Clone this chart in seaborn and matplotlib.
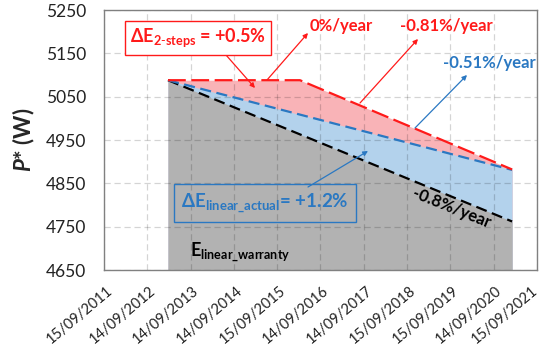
import matplotlib
matplotlib.use("Agg")
import matplotlib.pyplot as plt
import matplotlib.transforms as mtransforms
import seaborn as sns
import pandas as pd

# Module power degradation scenarios
dates_linear = ["2013-03-08", "2021-02-17"]
p_warranty = [5088, 4762]          # linear warranty, -0.8 %/year
p_actual = [5088, 4881]            # linear fit of actual data, -0.51 %/year
dates_two_steps = ["2013-03-08", "2016-03-25", "2021-02-17"]
p_two_steps = [5088, 5088, 4882]   # 0 %/year then -0.81 %/year

tick_dates = ["2011-09-15", "2012-09-14", "2013-09-14", "2014-09-14",
              "2015-09-15", "2016-09-14", "2017-09-14", "2018-09-15",
              "2019-09-15", "2020-09-14", "2021-09-15"]
tick_labels = ["15/09/2011", "14/09/2012", "14/09/2013", "14/09/2014",
               "15/09/2015", "14/09/2016", "14/09/2017", "15/09/2018",
               "15/09/2019", "14/09/2020", "15/09/2021"]
y_ticks = [4650, 4750, 4850, 4950, 5050, 5150, 5250]

sns.set_theme(style="white")
plt.rcParams["font.family"] = ["Lato", "DejaVu Sans"]
plt.rcParams["mathtext.fontset"] = "custom"
plt.rcParams["mathtext.rm"] = "Lato"
plt.rcParams["mathtext.bf"] = "Lato:bold"
plt.rcParams["mathtext.it"] = "Lato:bold:italic"

RED = "#ff1a1a"
BLUE = "#2a78c2"
PINK = "#f9b3b7"
LIGHTBLUE = "#b3d2ec"
GREY = "#b2b2b2"

lin = pd.DataFrame({"date": pd.to_datetime(dates_linear),
                    "warranty": p_warranty, "actual": p_actual})
two = pd.DataFrame({"date": pd.to_datetime(dates_two_steps), "p": p_two_steps})

fig = plt.figure(figsize=(5.41, 3.54), dpi=100)
ax = fig.add_axes([104 / 541, 84 / 354, 433 / 541, 260 / 354])

ymin, ymax = y_ticks[0], y_ticks[-1]

# stacked areas: each fill reaches the bottom, drawn from the top series down
ax.fill_between(two["date"], two["p"], ymin, color=PINK, lw=0, zorder=1)
ax.fill_between(lin["date"], lin["actual"], ymin, color=LIGHTBLUE, lw=0, zorder=1)
ax.fill_between(lin["date"], lin["warranty"], ymin, color=GREY, lw=0, zorder=1)

sns.lineplot(data=lin, x="date", y="warranty", ax=ax, color="black", lw=1.6,
             linestyle=(0, (5, 2.5)), zorder=3)
sns.lineplot(data=lin, x="date", y="actual", ax=ax, color=BLUE, lw=1.6,
             linestyle=(0, (5, 2.5)), zorder=3)
sns.lineplot(data=two, x="date", y="p", ax=ax, color=RED, lw=1.6,
             linestyle=(0, (8, 2.5)), zorder=4)

ax.set_xlim(pd.Timestamp(tick_dates[0]), pd.Timestamp(tick_dates[-1]))
ax.set_ylim(ymin, ymax)
tick_pos = pd.to_datetime(tick_dates)
ax.set_xticks(tick_pos)
ax.set_xticklabels([])

# rotated date labels, anchored by their upper-right corner below each tick
base = ax.get_xaxis_transform()
for i, (d, lab) in enumerate(zip(tick_pos, tick_labels)):
    dx = 2 if i < len(tick_labels) - 1 else -6
    off = mtransforms.ScaledTranslation(dx / 100, -14 / 100, fig.dpi_scale_trans)
    ax.text(d, 0, lab, transform=base + off, rotation=40, ha="right",
            va="top", rotation_mode="anchor", fontsize=10.5, color="#222222",
            clip_on=False)

ax.set_yticks(y_ticks)
ax.set_yticklabels([str(v) for v in y_ticks], fontsize=12.5, color="#222222")
ax.tick_params(axis="x", length=0, pad=0)
ax.tick_params(axis="y", length=0, pad=13)
ax.set_xlabel("")
ax.set_ylabel(r"$P$* (W)", fontsize=16, fontweight="bold", labelpad=6)

ax.set_axisbelow("line")
ax.grid(True, color="black", alpha=0.17, linestyle=(0, (5, 3)), lw=0.9)
for s in ax.spines.values():
    s.set_color("#808080")
    s.set_linewidth(1.0)


def fx(px):
    return (px - 104) / 433


def fy(py):
    return (270 - py) / 260


arrow_red = dict(arrowstyle="-|>", color=RED, lw=0.9, mutation_scale=7,
                 shrinkA=0, shrinkB=0)
arrow_blue = dict(arrowstyle="-|>", color=BLUE, lw=0.9, mutation_scale=7,
                  shrinkA=0, shrinkB=0)

ax.text(fx(198), fy(38), r"$\mathbf{\Delta E_{2\text{-}steps}}$ = +0.5%",
        transform=ax.transAxes, ha="center", va="center", fontsize=13,
        fontweight="bold", color=RED, zorder=6,
        bbox=dict(boxstyle="square,pad=0.3", fc="white", ec=RED, lw=1.0))
ax.annotate("", xy=(fx(255), fy(88)), xytext=(fx(226), fy(55)),
            xycoords="axes fraction", textcoords="axes fraction",
            arrowprops=arrow_red, zorder=5)

ax.text(fx(341), fy(26), "0%/year", transform=ax.transAxes, ha="center",
        va="center", fontsize=12, fontweight="bold", color=RED, zorder=6)
ax.annotate("", xy=(fx(308), fy(33)), xytext=(fx(267), fy(80)),
            xycoords="axes fraction", textcoords="axes fraction",
            arrowprops=arrow_red, zorder=5)

ax.text(fx(446), fy(26), "-0.81%/year", transform=ax.transAxes, ha="center",
        va="center", fontsize=12, fontweight="bold", color=RED, zorder=6)
ax.annotate("", xy=(fx(418), fy(39)), xytext=(fx(360), fy(103)),
            xycoords="axes fraction", textcoords="axes fraction",
            arrowprops=arrow_red, zorder=5)

ax.text(fx(489), fy(63), "-0.51%/year", transform=ax.transAxes, ha="center",
        va="center", fontsize=12, fontweight="bold", color=BLUE, zorder=6)
ax.annotate("", xy=(fx(467), fy(75)), xytext=(fx(415), fy(128)),
            xycoords="axes fraction", textcoords="axes fraction",
            arrowprops=arrow_blue, zorder=5)

ax.text(fx(452), fy(208), "-0.8%/year", transform=ax.transAxes, ha="center",
        va="center", fontsize=12, fontweight="bold", color="black",
        rotation=-22, zorder=6)

ax.text(fx(265), fy(203), r"$\mathbf{\Delta E_{linear\_actual}}$= +1.2%",
        transform=ax.transAxes, ha="center", va="center", fontsize=13.5,
        fontweight="bold", color=BLUE, zorder=6,
        bbox=dict(boxstyle="square,pad=0.4", fc="none", ec=BLUE, lw=1.0))
ax.annotate("", xy=(fx(368), fy(151)), xytext=(fx(308), fy(187)),
            xycoords="axes fraction", textcoords="axes fraction",
            arrowprops=arrow_blue, zorder=5)

ax.text(fx(190), fy(252), r"$\mathbf{E_{linear\_warranty}}$",
        transform=ax.transAxes, ha="left", va="center", fontsize=13,
        color="black", zorder=6)

fig.savefig("out.png", dpi=100)
